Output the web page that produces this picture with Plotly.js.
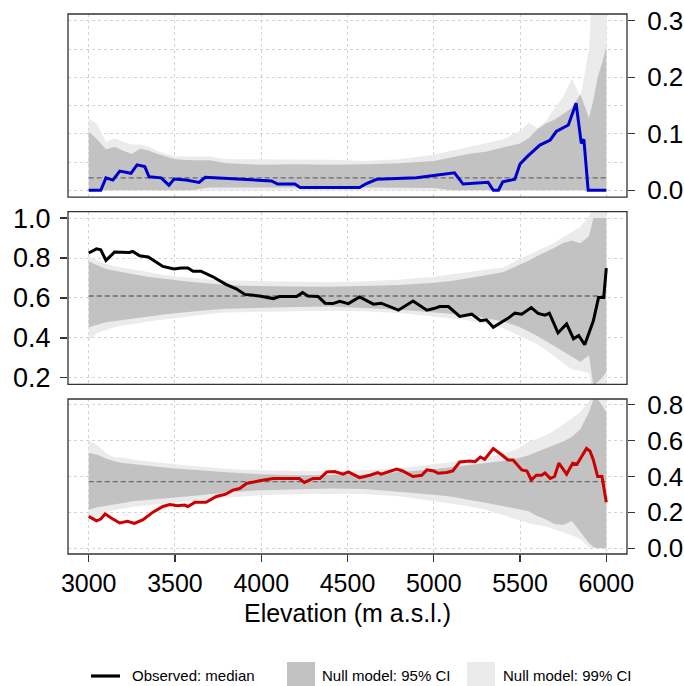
<!DOCTYPE html>
<html>
<head>
<meta charset="utf-8">
<script src="https://cdn.plot.ly/plotly-3.0.1.min.js"></script>
<style>html,body{margin:0;padding:0;background:#fff;}#chart{width:684px;height:686px;}</style>
</head>
<body>
<div id="chart"></div>
<script>
// ---- Data ----
const elevTicks = [3000, 3500, 4000, 4500, 5000, 5500, 6000];
const elevTickText = ["3000", "3500", "4000", "4500", "5000", "5500", "6000"];

// Elevation grid for null-model confidence bands
const bandElev = [3000,3050,3100,3150,3200,3250,3300,3350,3400,3500,3600,3700,3800,3900,4000,4200,4400,4600,4800,5000,5100,5200,5300,5400,5500,5550,5600,5650,5700,5750,5800,5850,5900,5925,5950,5975,6000];

// Top panel (blue)
const topHi95 = [.104,.090,.072,.077,.070,.064,.074,.070,.064,.055,.053,.053,.048,.046,.045,.046,.045,.046,.048,.052,.058,.064,.068,.075,.083,.092,.108,.118,.125,.135,.146,.170,.128,.160,.200,.225,.254];
const topLo95 = [0,0,0,0,0,0,0,0,0,0,0,.005,.005,.005,.005,.005,.005,.005,.005,.004,0,0,0,0,0,0,0,0,0,0,0,0,0,0,0,0,0];
const topHi99 = [.127,.117,.085,.092,.086,.081,.081,.077,.069,.060,.060,.060,.055,.055,.055,.055,.054,.052,.055,.063,.070,.076,.083,.090,.105,.120,.110,.122,.145,.165,.198,.165,.250,.40,.40,.40,.40];
const topLo99 = [0,0,0,0,0,0,0,0,0,0,0,0,0,0,0,0,0,0,0,0,0,0,0,0,0,0,0,0,0,0,0,0,0,0,0,0,0];
const topNull = 0.022;
const topElev = [3000,3070,3100,3140,3180,3245,3280,3325,3350,3420,3465,3495,3565,3640,3675,3835,4060,4095,4195,4225,4570,4610,4670,4900,5120,5170,5315,5345,5375,5400,5470,5500,5540,5615,5675,5710,5780,5825,5855,5870,5895,6000];
const topObs = [0,0,.022,.018,.034,.030,.045,.042,.024,.022,.009,.020,.018,.014,.023,.020,.0165,.011,.011,.005,.005,.012,.0195,.022,.031,.011,.014,0,0,.015,.0195,.0465,.059,.080,.089,.104,.1155,.154,.083,.090,0,0];

// Middle panel (black)
const midHi95 = [.783,.762,.745,.736,.727,.720,.712,.705,.699,.690,.680,.672,.665,.661,.659,.657,.656,.659,.665,.676,.685,.699,.713,.729,.767,.786,.810,.830,.852,.875,.888,.874,.910,1.0,1.0,1.0,1.0];
const midLo95 = [.453,.466,.478,.486,.491,.497,.503,.508,.514,.523,.533,.540,.546,.549,.552,.555,.557,.550,.541,.528,.521,.513,.500,.484,.453,.432,.410,.384,.360,.333,.307,.280,.313,.16,.18,.20,.23];
const midHi99 = [.808,.788,.770,.759,.750,.744,.738,.730,.720,.708,.699,.693,.689,.686,.684,.681,.679,.684,.691,.706,.718,.731,.742,.752,.795,.815,.836,.857,.877,.905,.928,.955,1.01,1.05,1.05,1.05,1.05];
const midLo99 = [.387,.425,.440,.453,.462,.469,.475,.483,.489,.500,.510,.520,.527,.530,.531,.534,.536,.533,.525,.508,.498,.489,.472,.450,.412,.388,.368,.340,.305,.275,.242,.236,.225,.10,.10,.10,.10];
const midNull = 0.610;
const midElev = [3000,3045,3070,3100,3150,3235,3255,3295,3345,3430,3495,3535,3575,3605,3650,3720,3795,3855,3905,3990,4070,4105,4205,4240,4270,4330,4370,4415,4455,4505,4570,4650,4695,4795,4880,4960,5000,5035,5085,5150,5220,5270,5305,5345,5385,5430,5470,5510,5565,5605,5645,5670,5720,5770,5810,5840,5875,5925,5955,5985,6000];
const midObs = [.825,.846,.841,.788,.830,.828,.833,.811,.805,.758,.745,.750,.750,.734,.734,.706,.668,.646,.618,.610,.597,.607,.607,.627,.610,.607,.574,.572,.583,.572,.605,.569,.574,.539,.585,.539,.547,.557,.557,.508,.519,.486,.491,.453,.475,.498,.524,.519,.552,.523,.514,.524,.425,.470,.396,.412,.366,.486,.602,.602,.750];

// Bottom panel (red)
const botHi95 = [.533,.522,.500,.485,.476,.470,.465,.460,.455,.445,.437,.431,.424,.418,.412,.407,.407,.411,.425,.440,.452,.463,.475,.487,.505,.518,.538,.556,.575,.595,.620,.665,.760,.83,.83,.80,.755];
const botLo95 = [.215,.228,.238,.246,.253,.262,.266,.270,.274,.283,.292,.301,.311,.318,.324,.330,.333,.330,.316,.298,.288,.271,.254,.236,.217,.207,.180,.160,.135,.130,.152,.090,.030,.005,0,0,0];
const botHi99 = [.598,.575,.530,.506,.506,.495,.489,.483,.478,.468,.459,.450,.443,.437,.434,.431,.431,.436,.446,.468,.480,.490,.503,.525,.560,.595,.610,.630,.657,.690,.725,.760,.820,.85,.85,.85,.85];
const botLo99 = [.160,.175,.200,.213,.222,.230,.236,.243,.248,.257,.264,.273,.282,.291,.296,.302,.303,.302,.290,.265,.250,.236,.215,.185,.155,.140,.130,.122,.108,.090,.072,.050,.005,0,0,0,0];
const botNull = 0.372;
const botElev = [3000,3045,3070,3095,3140,3180,3225,3265,3315,3370,3430,3470,3515,3555,3575,3615,3680,3740,3795,3835,3875,3915,3990,4070,4220,4250,4300,4340,4380,4425,4475,4505,4530,4570,4630,4675,4695,4785,4820,4880,4930,4960,5000,5025,5075,5110,5150,5210,5240,5270,5295,5345,5395,5430,5460,5510,5540,5565,5595,5625,5645,5675,5700,5725,5770,5805,5830,5855,5885,5905,5925,5950,5975,6000];
const botObs = [.178,.153,.163,.191,.163,.141,.150,.139,.159,.200,.233,.244,.237,.241,.233,.256,.256,.289,.302,.324,.333,.361,.376,.389,.389,.367,.389,.389,.426,.428,.413,.426,.413,.394,.407,.422,.413,.441,.431,.400,.407,.437,.431,.418,.422,.431,.481,.487,.483,.509,.496,.556,.520,.492,.492,.437,.431,.381,.407,.407,.420,.389,.400,.474,.413,.474,.468,.505,.556,.542,.492,.400,.400,.256];

const legendLabels = ["Observed: median", "Null model: 95% CI", "Null model: 99% CI"];

// ---- Styles ----
const C95 = "#C2C2C2", C99 = "#EBEBEB";
const GRID = "#D4D4D4", FRAME = "#333333";
const FONT = "Liberation Sans, Arial, sans-serif";

function band(hi, lo, color, xa, ya) {
  return {
    x: bandElev.concat(bandElev.slice().reverse()),
    y: hi.concat(lo.slice().reverse()),
    xaxis: xa, yaxis: ya, type: "scatter", mode: "lines",
    fill: "toself", fillcolor: color, line: {width: 0, color: color},
    hoverinfo: "skip", showlegend: false
  };
}
function nullLine(v, xa, ya) {
  return {x: [elevTicks[0], elevTicks[elevTicks.length - 1]], y: [v, v], xaxis: xa, yaxis: ya,
    type: "scatter", mode: "lines", line: {color: "#6A6A6A", width: 1.3, dash: "5px,3px"}, showlegend: false};
}
function obsLine(x, y, color, xa, ya) {
  return {x: x, y: y, xaxis: xa, yaxis: ya, type: "scatter", mode: "lines",
    line: {color: color, width: 3, shape: "linear"}, showlegend: false};
}

const traces = [
  band(topHi99, topLo99, C99, "x", "y"),
  band(topHi95, topLo95, C95, "x", "y"),
  nullLine(topNull, "x", "y"),
  obsLine(topElev, topObs, "#0000CC", "x", "y"),
  band(midHi99, midLo99, C99, "x2", "y2"),
  band(midHi95, midLo95, C95, "x2", "y2"),
  nullLine(midNull, "x2", "y2"),
  obsLine(midElev, midObs, "#000000", "x2", "y2"),
  band(botHi99, botLo99, C99, "x3", "y3"),
  band(botHi95, botLo95, C95, "x3", "y3"),
  nullLine(botNull, "x3", "y3"),
  obsLine(botElev, botObs, "#CC0000", "x3", "y3")
];

function xAxis(anchor, showLabels) {
  return {
    domain: [0, 1], range: [2880, 6120], anchor: anchor,
    tickmode: "array", tickvals: elevTicks, ticktext: elevTickText,
    showgrid: true, gridcolor: GRID, griddash: "dot", gridwidth: 1,
    zeroline: false, showline: false,
    ticks: showLabels ? "outside" : "", ticklen: 7, tickwidth: 1.2, tickcolor: FRAME,
    showticklabels: showLabels,
    tickfont: {family: FONT, size: 25, color: "#000"}
  };
}
function yAxis(domain, range, side, dtick, tick0, minor, anchor, standoff, fsize) {
  const a = {
    domain: domain, range: range, side: side, anchor: anchor,
    tickmode: "linear", dtick: dtick, tick0: tick0, tickformat: ".1f",
    showgrid: true, gridcolor: GRID, griddash: "dot", gridwidth: 1,
    zeroline: false, showline: false,
    ticks: "outside", ticklen: 7, tickwidth: 1.2, tickcolor: FRAME,
    ticklabelstandoff: standoff,
    tickfont: {family: FONT, size: fsize, color: "#000"}
  };
  if (minor) a.minor = {dtick: minor, tick0: 0, showgrid: true, gridcolor: GRID, griddash: "dot", gridwidth: 1, ticks: ""};
  return a;
}

const xa3 = xAxis("y3", true);
xa3.title = {text: "Elevation (m a.s.l.)", font: {family: FONT, size: 25, color: "#000"}, standoff: 8};

function px2x(p) { return (p - 68) / 559; }
function py2y(p) { return (554 - p) / 540; }

function frame(xa, ya) {
  return {type: "rect", xref: xa + " domain", yref: ya + " domain", x0: 0, x1: 1, y0: 0, y1: 1,
    line: {color: FRAME, width: 1.3}, fillcolor: "rgba(0,0,0,0)", layer: "above"};
}

const layout = {
  width: 684, height: 686,
  margin: {l: 68, r: 57, t: 14, b: 132},
  paper_bgcolor: "#fff", plot_bgcolor: "#fff",
  font: {family: FONT, color: "#000"},
  showlegend: false,
  xaxis: xAxis("y", false),
  xaxis2: xAxis("y2", false),
  xaxis3: xa3,
  yaxis: yAxis([0.661, 1], [-0.012, 0.312], "right", 0.1, 0, 0.05, "x", 7, 26),
  yaxis2: yAxis([0.3143, 0.6339], [0.168, 1.032], "left", 0.2, 0.2, null, "x2", 4, 27),
  yaxis3: yAxis([0, 0.287], [-0.032, 0.832], "right", 0.2, 0, null, "x3", 7, 26),
  shapes: [
    frame("x", "y"), frame("x2", "y2"), frame("x3", "y3"),
    {type: "line", xref: "paper", yref: "paper", x0: px2x(91), x1: px2x(120), y0: py2y(676), y1: py2y(676), line: {color: "#000", width: 3.2}},
    {type: "rect", xref: "paper", yref: "paper", x0: px2x(287), x1: px2x(315), y0: py2y(662), y1: py2y(692), fillcolor: C95, line: {width: 0}},
    {type: "rect", xref: "paper", yref: "paper", x0: px2x(467), x1: px2x(495), y0: py2y(662), y1: py2y(692), fillcolor: C99, line: {width: 0}}
  ],
  annotations: [
    {xref: "paper", yref: "paper", x: px2x(130), y: py2y(675), xanchor: "left", yanchor: "middle", showarrow: false, text: legendLabels[0], font: {family: FONT, size: 15, color: "#000"}},
    {xref: "paper", yref: "paper", x: px2x(320), y: py2y(675), xanchor: "left", yanchor: "middle", showarrow: false, text: legendLabels[1], font: {family: FONT, size: 15, color: "#000"}},
    {xref: "paper", yref: "paper", x: px2x(501), y: py2y(675), xanchor: "left", yanchor: "middle", showarrow: false, text: legendLabels[2], font: {family: FONT, size: 15, color: "#000"}}
  ]
};

Plotly.newPlot("chart", traces, layout, {staticPlot: true, displayModeBar: false});
</script>
</body>
</html>
